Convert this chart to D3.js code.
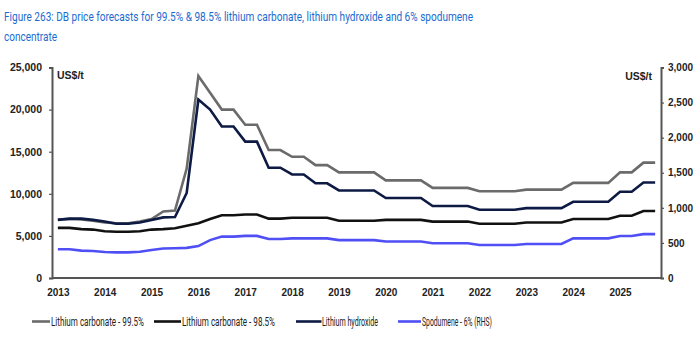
<!DOCTYPE html>
<html><head><meta charset="utf-8">
<script src="https://cdn.jsdelivr.net/npm/d3@7/dist/d3.min.js"></script>
<style>
body{margin:0;background:#fff;}
svg{display:block;}
</style></head>
<body>
<svg id="chart" width="700" height="343"></svg>
<script>
const years = ["2013","2014","2015","2016","2017","2018","2019","2020","2021","2022","2023","2024","2025"];
const quarters = years.flatMap(y => ["Q1","Q2","Q3","Q4"].map(q => y + q));
const leftTicks = [0, 5000, 10000, 15000, 20000, 25000];
const rightTicks = [0, 500, 1000, 1500, 2000, 2500, 3000];

const carb995 = [6950,7000,6950,6800, 6600,6500,6500,6700, 7000,7900,8000,13000,
  24000,22000,20000,20000, 18200,18200,15200,15200, 14400,14400,13400,13400,
  12550,12550,12550,12550, 11600,11600,11600,11600, 10700,10700,10700,10700,
  10300,10300,10300,10300, 10500,10500,10500,10500, 11300,11300,11300,11300,
  12550,12550,13700,13700];
const carb985 = [5950,5950,5800,5750, 5550,5500,5500,5550, 5750,5800,5900,6200,
  6500,7000,7450,7450, 7550,7550,7050,7050, 7150,7150,7150,7150,
  6800,6800,6800,6800, 6900,6900,6900,6900, 6700,6700,6700,6700,
  6450,6450,6450,6450, 6600,6600,6600,6600, 7000,7000,7000,7000,
  7400,7400,7950,7950];
const hydroxide = [6900,7050,7050,6900, 6700,6450,6450,6600, 6900,7200,7250,10100,
  21200,20000,18000,18000, 16200,16200,13100,13100, 12300,12300,11250,11250,
  10400,10400,10400,10400, 9500,9500,9500,9500, 8550,8550,8550,8550,
  8100,8100,8100,8100, 8300,8300,8300,8300, 9050,9050,9050,9050,
  10250,10250,11350,11350];
const spodumene = [410,410,390,385, 370,365,365,375, 400,420,425,430,
  455,540,590,590, 600,600,555,555, 565,565,565,565,
  540,540,540,540, 520,520,520,520, 495,495,495,495,
  470,470,470,470, 485,485,485,485, 565,565,565,565,
  598,598,625,625];

const seriesNames = ["Lithium carbonate - 99.5%","Lithium carbonate - 98.5%","Lithium hydroxide","Spodumene - 6% (RHS)"];

const svg = d3.select("#chart");
const L = 52, R = 661, T = 67.5, B = 278;

const x = d3.scalePoint().domain(quarters).range([L, R]).padding(0.5);
const yL = d3.scaleLinear().domain([0, 25000]).range([B, T]);
const yR = d3.scaleLinear().domain([0, 3000]).range([B, T]);

// Title
const title = svg.append("g").attr("fill", "#1c6cd0").style("font-family", "Roboto, 'Liberation Sans', sans-serif")
  .style("font-size", "13px").style("font-weight", "normal");
title.append("text").attr("x", 4).attr("y", 20.5).attr("textLength", 469).attr("lengthAdjust", "spacingAndGlyphs")
  .text("Figure 263: DB price forecasts for 99.5% & 98.5% lithium carbonate, lithium hydroxide and 6% spodumene");
title.append("text").attr("x", 4).attr("y", 41).attr("textLength", 53).attr("lengthAdjust", "spacingAndGlyphs")
  .text("concentrate");

const fontAxis = "'Liberation Sans', Arial, sans-serif";

// Left axis
const gl = svg.append("g").attr("transform", `translate(${L},0)`)
  .call(d3.axisLeft(yL).tickValues(leftTicks).tickSize(3).tickPadding(7).tickFormat(d3.format(",")));
// Right axis
const gr = svg.append("g").attr("transform", `translate(${R},0)`)
  .call(d3.axisRight(yR).tickValues(rightTicks).tickSize(3).tickPadding(4).tickFormat(d3.format(",")));
// Bottom axis
const gb = svg.append("g").attr("transform", `translate(0,${B})`)
  .call(d3.axisBottom(x).tickValues(quarters.filter((q, i) => i % 4 === 0)).tickSize(0).tickPadding(11).tickFormat(q => q.slice(0, 4)));

[gl, gr, gb].forEach(g => {
  g.select(".domain").attr("stroke", "#555").attr("stroke-width", 2);
  g.selectAll(".tick line").attr("stroke", "#555").attr("stroke-width", 1.2);
  g.selectAll("text").attr("fill", "#222").style("font-family", fontAxis).style("font-weight", "bold").style("font-size", "10.5px");
});
gb.select(".domain").attr("d", `M${L},0H${R}`).attr("stroke-width", 2.2);
gr.selectAll("text").style("font-size", "10px");
gb.selectAll("text").style("font-size", "10px");

// Unit labels
svg.append("text").attr("x", 57).attr("y", 79).text("US$/t").attr("fill", "#222")
  .style("font-family", fontAxis).style("font-weight", "bold").style("font-size", "10.5px");
svg.append("text").attr("x", 652).attr("y", 80).attr("text-anchor", "end").text("US$/t").attr("fill", "#222")
  .style("font-family", fontAxis).style("font-weight", "bold").style("font-size", "10.5px");

// Lines
const lineL = d3.line().x((d, i) => x(quarters[i])).y(d => yL(d));
const lineR = d3.line().x((d, i) => x(quarters[i])).y(d => yR(d));
const series = [
  {data: carb995, line: lineL, color: "#6b6b6b"},
  {data: carb985, line: lineL, color: "#111111"},
  {data: hydroxide, line: lineL, color: "#0c1a44"},
  {data: spodumene, line: lineR, color: "#4f4ff5"}
];
series.forEach(s => {
  svg.append("path").datum(s.data).attr("fill", "none").attr("stroke", s.color)
    .attr("stroke-width", 2.6).attr("stroke-linejoin", "miter").attr("d", s.line);
});

// Legend
const legendLayout = [
  {x0: 32, x1: 50, tx: 51, tw: 93},
  {x0: 154, x1: 181, tx: 182, tw: 93},
  {x0: 296, x1: 321.5, tx: 322, tw: 56},
  {x0: 398, x1: 421, tx: 422, tw: 70}
];
const lg = svg.append("g");
seriesNames.forEach((name, i) => {
  const p = legendLayout[i];
  lg.append("line").attr("x1", p.x0).attr("x2", p.x1).attr("y1", 321.5).attr("y2", 321.5)
    .attr("stroke", series[i].color).attr("stroke-width", 2.6);
  lg.append("text").attr("x", p.tx).attr("y", 325.5).attr("textLength", p.tw).attr("lengthAdjust", "spacingAndGlyphs")
    .attr("fill", "#222").style("font-family", "Roboto, 'Liberation Sans', sans-serif").style("font-size", "12px")
    .text(name);
});
</script>
</body></html>
